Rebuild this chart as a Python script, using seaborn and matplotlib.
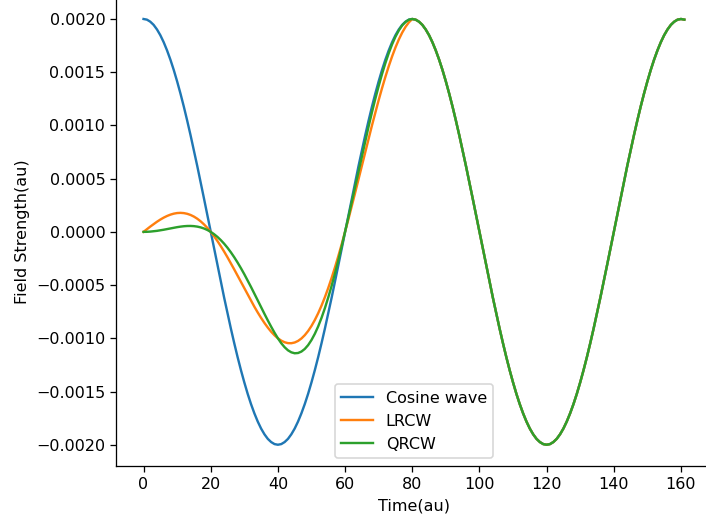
import pandas as pd
import seaborn as sns
import matplotlib
matplotlib.use("Agg")
import matplotlib.pyplot as plt

# sample times (au), one per au
time_au = list(range(0, 162))

# plain cosine wave (t = 0..161)
cosine_wave = [
    0.002000, 0.001994, 0.001975, 0.001945, 0.001902, 0.001848, 0.001782, 0.001705, 0.001618, 0.001521,
    0.001414, 0.001299, 0.001176, 0.001045, 0.000908, 0.000765, 0.000618, 0.000467, 0.000313, 0.000157,
    0.000000, -0.000157, -0.000313, -0.000467, -0.000618, -0.000765, -0.000908, -0.001045, -0.001176, -0.001299,
    -0.001414, -0.001521, -0.001618, -0.001705, -0.001782, -0.001848, -0.001902, -0.001945, -0.001975, -0.001994,
    -0.002000, -0.001994, -0.001975, -0.001945, -0.001902, -0.001848, -0.001782, -0.001705, -0.001618, -0.001521,
    -0.001414, -0.001299, -0.001176, -0.001045, -0.000908, -0.000765, -0.000618, -0.000467, -0.000313, -0.000157,
    0.000000, 0.000157, 0.000313, 0.000467, 0.000618, 0.000765, 0.000908, 0.001045, 0.001176, 0.001299,
    0.001414, 0.001521, 0.001618, 0.001705, 0.001782, 0.001848, 0.001902, 0.001945, 0.001975, 0.001994,
    0.002000, 0.001994, 0.001975, 0.001945, 0.001902, 0.001848, 0.001782, 0.001705, 0.001618, 0.001521,
    0.001414, 0.001299, 0.001176, 0.001045, 0.000908, 0.000765, 0.000618, 0.000467, 0.000313, 0.000157,
    0.000000, -0.000157, -0.000313, -0.000467, -0.000618, -0.000765, -0.000908, -0.001045, -0.001176, -0.001299,
    -0.001414, -0.001521, -0.001618, -0.001705, -0.001782, -0.001848, -0.001902, -0.001945, -0.001975, -0.001994,
    -0.002000, -0.001994, -0.001975, -0.001945, -0.001902, -0.001848, -0.001782, -0.001705, -0.001618, -0.001521,
    -0.001414, -0.001299, -0.001176, -0.001045, -0.000908, -0.000765, -0.000618, -0.000467, -0.000313, -0.000157,
    0.000000, 0.000157, 0.000313, 0.000467, 0.000618, 0.000765, 0.000908, 0.001045, 0.001176, 0.001299,
    0.001414, 0.001521, 0.001618, 0.001705, 0.001782, 0.001848, 0.001902, 0.001945, 0.001975, 0.001994,
    0.002000, 0.001994,
]

# ramped parts (t = 0..80); after the ramp both follow the cosine wave
lrcw_ramp = [
    0.0000000, 0.0000249, 0.0000494, 0.0000729, 0.0000951, 0.0001155, 0.0001337, 0.0001492, 0.0001618, 0.0001711,
    0.0001768, 0.0001786, 0.0001763, 0.0001698, 0.0001589, 0.0001435, 0.0001236, 0.0000992, 0.0000704, 0.0000373,
    0.0000000, -0.0000412, -0.0000860, -0.0001342, -0.0001854, -0.0002392, -0.0002951, -0.0003527, -0.0004114, -0.0004708,
    -0.0005303, -0.0005893, -0.0006472, -0.0007034, -0.0007574, -0.0008084, -0.0008560, -0.0008994, -0.0009383, -0.0009720,
    -0.0010000, -0.0010218, -0.0010371, -0.0010453, -0.0010462, -0.0010394, -0.0010247, -0.0010019, -0.0009708, -0.0009315,
    -0.0008839, -0.0008280, -0.0007641, -0.0006923, -0.0006129, -0.0005262, -0.0004326, -0.0003327, -0.0002268, -0.0001157,
    0.0000000, 0.0001196, 0.0002425, 0.0003677, 0.0004944, 0.0006219, 0.0007491, 0.0008752, 0.0009992, 0.0011203,
    0.0012374, 0.0013497, 0.0014562, 0.0015561, 0.0016484, 0.0017323, 0.0018070, 0.0018718, 0.0019260, 0.0019689,
    0.0020000,
]
qrcw_ramp = [
    0.0000000, 0.0000006, 0.0000025, 0.0000055, 0.0000095, 0.0000144, 0.0000200, 0.0000261, 0.0000324, 0.0000385,
    0.0000442, 0.0000491, 0.0000529, 0.0000552, 0.0000556, 0.0000538, 0.0000494, 0.0000422, 0.0000317, 0.0000177,
    0.0000000, -0.0000216, -0.0000473, -0.0000772, -0.0001112, -0.0001494, -0.0001918, -0.0002381, -0.0002881, -0.0003414,
    -0.0003977, -0.0004568, -0.0005178, -0.0005802, -0.0006437, -0.0007074, -0.0007703, -0.0008321, -0.0008912, -0.0009478,
    -0.0010000, -0.0010462, -0.0010838, -0.0011129, -0.0011317, -0.0011406, -0.0011382, -0.0011248, -0.0011002, -0.0010642,
    -0.0010163, -0.0009576, -0.0008879, -0.0008069, -0.0007162, -0.0006156, -0.0005068, -0.0003898, -0.0002657, -0.0001354,
    0.0000000, 0.0001393, 0.0002813, 0.0004248, 0.0005686, 0.0007112, 0.0008524, 0.0009898, 0.0011231, 0.0012499,
    0.0013698, 0.0014825, 0.0015856, 0.0016789, 0.0017620, 0.0018336, 0.0018925, 0.0019395, 0.0019725, 0.0019934,
    0.0020000,
]

lrcw = lrcw_ramp + cosine_wave[len(lrcw_ramp):]
qrcw = qrcw_ramp + cosine_wave[len(qrcw_ramp):]

series = {"Cosine wave": cosine_wave, "LRCW": lrcw, "QRCW": qrcw}
colors = ["#1f77b4", "#ff7f0e", "#2ca02c"]

dpi = 115
fig = plt.figure(figsize=(706 / dpi, 520 / dpi), dpi=dpi)
ax = fig.add_axes([0.165, 0.1038, 0.8426, 0.9006])

for (name, values), color in zip(series.items(), colors):
    df = pd.DataFrame({"time": time_au, "field": values})
    sns.lineplot(data=df, x="time", y="field", color=color, label=name,
                 linewidth=1.5, ax=ax)

ax.set_xlabel("Time(au)")
ax.set_ylabel("Field Strength(au)")
ax.set_xticks([0, 20, 40, 60, 80, 100, 120, 140, 160])
ax.legend(loc="lower center")
sns.despine(ax=ax)

fig.savefig("out.png", dpi=dpi)
